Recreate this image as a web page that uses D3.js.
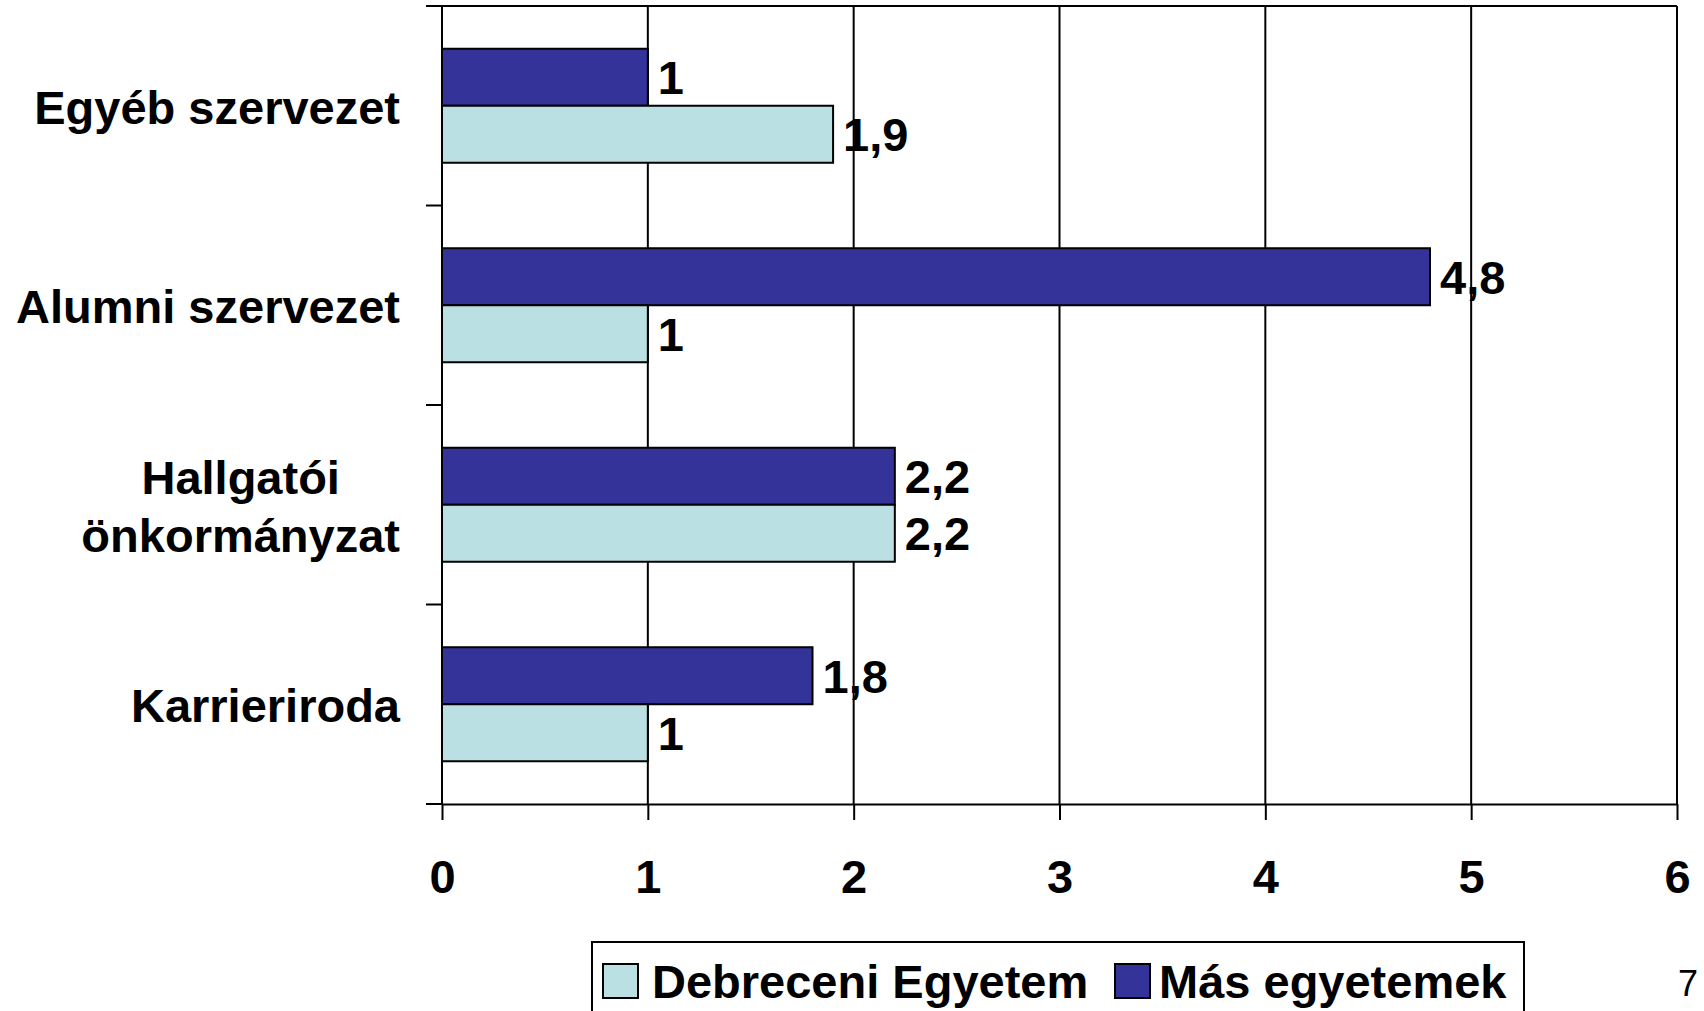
<!DOCTYPE html>
<html>
<head>
<meta charset="utf-8">
<script src="https://cdnjs.cloudflare.com/ajax/libs/d3/7.8.5/d3.min.js"></script>
<style>
  body { margin: 0; background: #fff; }
  text { font-family: "Liberation Sans", Arial, sans-serif; font-weight: bold; fill: #000; }
</style>
</head>
<body>
<div id="chart"></div>
<script>
// Data
const categories = ['Egyéb szervezet', 'Alumni szervezet', 'Hallgatói önkormányzat', 'Karrieriroda']
const categoryLines = [['Egyéb szervezet'], ['Alumni szervezet'], ['Hallgatói', 'önkormányzat'], ['Karrieriroda']]
const seriesNames = ['Más egyetemek', 'Debreceni Egyetem']
const masValues = [1, 4.8, 2.2, 1.8]
const debValues = [1.9, 1, 2.2, 1]
const xTicks = [0, 1, 2, 3, 4, 5, 6]
const colors = { 'Más egyetemek': '#333399', 'Debreceni Egyetem': '#BBE0E3' }

//Dimensions
let W = 1704, H = 1011,
    plotLeft = 442, plotRight = 1677, plotTop = 6, plotBottom = 804,
    fontSize = '47px'

const svg = d3.select('#chart')
    .append('svg')
    .attr('width', W)
    .attr('height', H)

// Scales
let x = d3.scaleLinear().domain([0, 6]).range([plotLeft, plotRight])
let y = d3.scaleBand().domain(categories).range([plotTop, plotBottom]).padding(0)
let ySub = d3.scaleBand().domain(seriesNames).range([0, y.bandwidth()]).paddingInner(0).paddingOuter(0.75)

// Gridlines
svg.append('g')
    .selectAll('line')
    .data(xTicks.slice(1))
    .enter()
    .append('line')
    .attr('x1', d => x(d)).attr('x2', d => x(d))
    .attr('y1', plotTop).attr('y2', plotBottom)
    .attr('stroke', '#000').attr('stroke-width', 2)

// top line
svg.append('line')
    .attr('x1', plotLeft - 16).attr('x2', plotRight)
    .attr('y1', plotTop).attr('y2', plotTop)
    .attr('stroke', '#000').attr('stroke-width', 2)

// Bars
let rows = categories.map((c, i) => ({ cat: c, values: [
    { series: 'Más egyetemek', value: masValues[i] },
    { series: 'Debreceni Egyetem', value: debValues[i] }
] }))

let groups = svg.append('g')
    .selectAll('g')
    .data(rows)
    .enter()
    .append('g')
    .attr('transform', d => 'translate(0,' + y(d.cat) + ')')

groups.selectAll('rect')
    .data(d => d.values)
    .enter()
    .append('rect')
    .attr('x', x(0))
    .attr('y', d => ySub(d.series))
    .attr('width', d => x(d.value) - x(0))
    .attr('height', ySub.bandwidth())
    .attr('fill', d => colors[d.series])
    .attr('stroke', '#000')
    .attr('stroke-width', 2)

// Value labels
groups.selectAll('text')
    .data(d => d.values)
    .enter()
    .append('text')
    .attr('x', d => x(d.value) + 10)
    .attr('y', d => ySub(d.series) + ySub.bandwidth() / 2)
    .attr('dy', '0.36em')
    .style('font-size', fontSize)
    .text(d => String(d.value).replace('.', ','))

// Y axis
svg.append('line')
    .attr('x1', plotLeft).attr('x2', plotLeft)
    .attr('y1', plotTop).attr('y2', plotBottom)
    .attr('stroke', '#000').attr('stroke-width', 2)

let yTickPos = categories.map(c => y(c)).concat([plotBottom])
svg.append('g')
    .selectAll('line')
    .data(yTickPos)
    .enter()
    .append('line')
    .attr('x1', plotLeft - 16).attr('x2', plotLeft)
    .attr('y1', d => d).attr('y2', d => d)
    .attr('stroke', '#000').attr('stroke-width', 2)

// Category labels
categories.forEach((c, i) => {
    let lines = categoryLines[i]
    let g = svg.append('g')
    let cy = y(c) + y.bandwidth() / 2 + 1
    let txt = g.selectAll('text')
        .data(lines)
        .enter()
        .append('text')
        .attr('y', (d, j) => cy + (j - (lines.length - 1) / 2) * 58)
        .attr('dy', '0.36em')
        .style('font-size', fontSize)
        .text(d => d)
    let maxW = 0
    txt.each(function() { maxW = Math.max(maxW, this.getComputedTextLength()) })
    txt.attr('x', 400 - maxW / 2).attr('text-anchor', 'middle')
})

// X axis
let xAxis = svg.append('g')
    .attr('transform', 'translate(0,' + plotBottom + ')')
    .call(d3.axisBottom(x).tickValues(xTicks).tickFormat(d3.format('d')).tickSize(16).tickPadding(40).tickSizeOuter(0))
xAxis.select('.domain').attr('stroke', '#000').attr('stroke-width', 2)
xAxis.selectAll('.tick line').attr('stroke', '#000').attr('stroke-width', 2)
xAxis.selectAll('.tick text')
    .style('font-size', fontSize)
    .style('font-family', '"Liberation Sans", Arial, sans-serif')
    .style('font-weight', 'bold')
    .attr('fill', '#000')

// Legend
let legend = svg.append('g')
legend.append('rect')
    .attr('x', 592).attr('y', 942)
    .attr('width', 932).attr('height', 90)
    .attr('fill', '#fff').attr('stroke', '#000').attr('stroke-width', 2)

const legendItems = [
    { name: 'Debreceni Egyetem', sx: 603, tx: 652 },
    { name: 'Más egyetemek', sx: 1115, tx: 1159 }
]
legend.selectAll('rect.sw')
    .data(legendItems)
    .enter()
    .append('rect')
    .attr('class', 'sw')
    .attr('x', d => d.sx).attr('y', 964)
    .attr('width', 35).attr('height', 34)
    .attr('fill', d => colors[d.name])
    .attr('stroke', '#000').attr('stroke-width', 2)
legend.selectAll('text')
    .data(legendItems)
    .enter()
    .append('text')
    .attr('x', d => d.tx).attr('y', 998)
    .style('font-size', fontSize)
    .text(d => d.name)

// page number
svg.append('text')
    .attr('x', 1678).attr('y', 996)
    .style('font-size', '36px')
    .style('font-weight', 'normal')
    .text('7')
</script>
</body>
</html>
